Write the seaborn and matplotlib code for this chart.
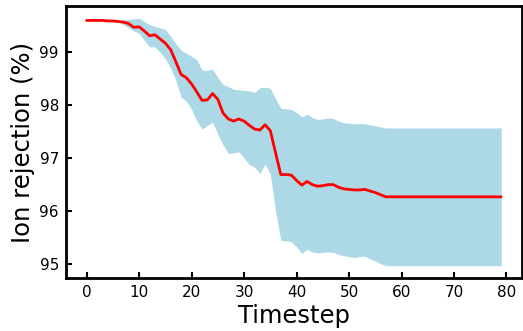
import matplotlib
matplotlib.use("Agg")
import matplotlib.pyplot as plt
import seaborn as sns
import numpy as np
import pandas as pd

timestep = list(range(80))

mean_rejection = [
    99.60, 99.60, 99.60, 99.60, 99.59, 99.59, 99.58, 99.57, 99.54, 99.47,
    99.48, 99.40, 99.31, 99.33, 99.25, 99.17, 99.05, 98.82, 98.58, 98.52,
    98.40, 98.25, 98.09, 98.10, 98.22, 98.11, 97.85, 97.74, 97.70, 97.74,
    97.70, 97.62, 97.55, 97.53, 97.63, 97.52, 97.10, 96.69, 96.69, 96.68,
    96.58, 96.49, 96.56, 96.50, 96.47, 96.48, 96.50, 96.50, 96.45, 96.42,
    96.41, 96.40, 96.40, 96.41, 96.38, 96.35, 96.31, 96.27, 96.27, 96.27,
    96.27, 96.27, 96.27, 96.27, 96.27, 96.27, 96.27, 96.27, 96.27, 96.27,
    96.27, 96.27, 96.27, 96.27, 96.27, 96.27, 96.27, 96.27, 96.27, 96.27,
]

upper_rejection = [
    99.60, 99.60, 99.60, 99.60, 99.60, 99.60, 99.60, 99.61, 99.62, 99.63,
    99.64, 99.58, 99.52, 99.49, 99.46, 99.43, 99.30, 99.16, 99.04, 98.98,
    98.92, 98.86, 98.66, 98.66, 98.68, 98.52, 98.39, 98.35, 98.30, 98.29,
    98.28, 98.27, 98.24, 98.33, 98.34, 98.32, 98.12, 97.94, 97.93, 97.92,
    97.86, 97.78, 97.83, 97.77, 97.73, 97.74, 97.76, 97.75, 97.70, 97.67,
    97.66, 97.65, 97.65, 97.65, 97.63, 97.61, 97.59, 97.57, 97.57, 97.57,
    97.57, 97.57, 97.57, 97.57, 97.57, 97.57, 97.57, 97.57, 97.57, 97.57,
    97.57, 97.57, 97.57, 97.57, 97.57, 97.57, 97.57, 97.57, 97.57, 97.57,
]

lower_rejection = [
    99.60, 99.60, 99.60, 99.60, 99.59, 99.58, 99.57, 99.52, 99.46, 99.40,
    99.36, 99.22, 99.10, 99.10, 99.00, 98.88, 98.70, 98.47, 98.15, 98.08,
    97.92, 97.70, 97.55, 97.62, 97.68, 97.45, 97.25, 97.09, 97.10, 97.12,
    97.00, 96.88, 96.83, 96.71, 96.89, 96.70, 96.00, 95.45, 95.44, 95.42,
    95.33, 95.20, 95.28, 95.23, 95.21, 95.22, 95.23, 95.22, 95.18, 95.16,
    95.14, 95.12, 95.14, 95.15, 95.10, 95.06, 95.01, 94.97, 94.97, 94.97,
    94.97, 94.97, 94.97, 94.97, 94.97, 94.97, 94.97, 94.97, 94.97, 94.97,
    94.97, 94.97, 94.97, 94.97, 94.97, 94.97, 94.97, 94.97, 94.97, 94.97,
]

df = pd.DataFrame({"Timestep": timestep, "mean": mean_rejection,
                   "upper": upper_rejection, "lower": lower_rejection})

sns.set_style("white")
plt.rcParams['font.family'] = ['DejaVu Sans']
plt.rcParams['text.color'] = 'black'
plt.rcParams['axes.labelcolor'] = 'black'
plt.rcParams['xtick.color'] = 'black'
plt.rcParams['ytick.color'] = 'black'

fig = plt.figure(figsize=(5.23, 3.31), dpi=100)
ax = fig.add_axes([0.126, 0.160, 0.872, 0.822])

ax.fill_between(df["Timestep"], df["lower"], df["upper"], color="lightblue",
                linewidth=0, alpha=1.0)
sns.lineplot(data=df, x="Timestep", y="mean", color="red", linewidth=2, ax=ax)

ax.set_xlabel("Timestep", fontsize=17.5, color="black", labelpad=3)
ax.set_ylabel("Ion rejection (%)", fontsize=17.5, color="black", labelpad=3)
ax.set_xticks([0, 10, 20, 30, 40, 50, 60, 70, 80])
ax.set_yticks([95, 96, 97, 98, 99])
ax.tick_params(axis="both", which="major", direction="in", length=4, width=1.5,
               labelsize=11, colors="black", bottom=True, left=True, pad=5)
for s in ax.spines.values():
    s.set_linewidth(2)
    s.set_color("black")

fig.savefig("out.png", dpi=100)
